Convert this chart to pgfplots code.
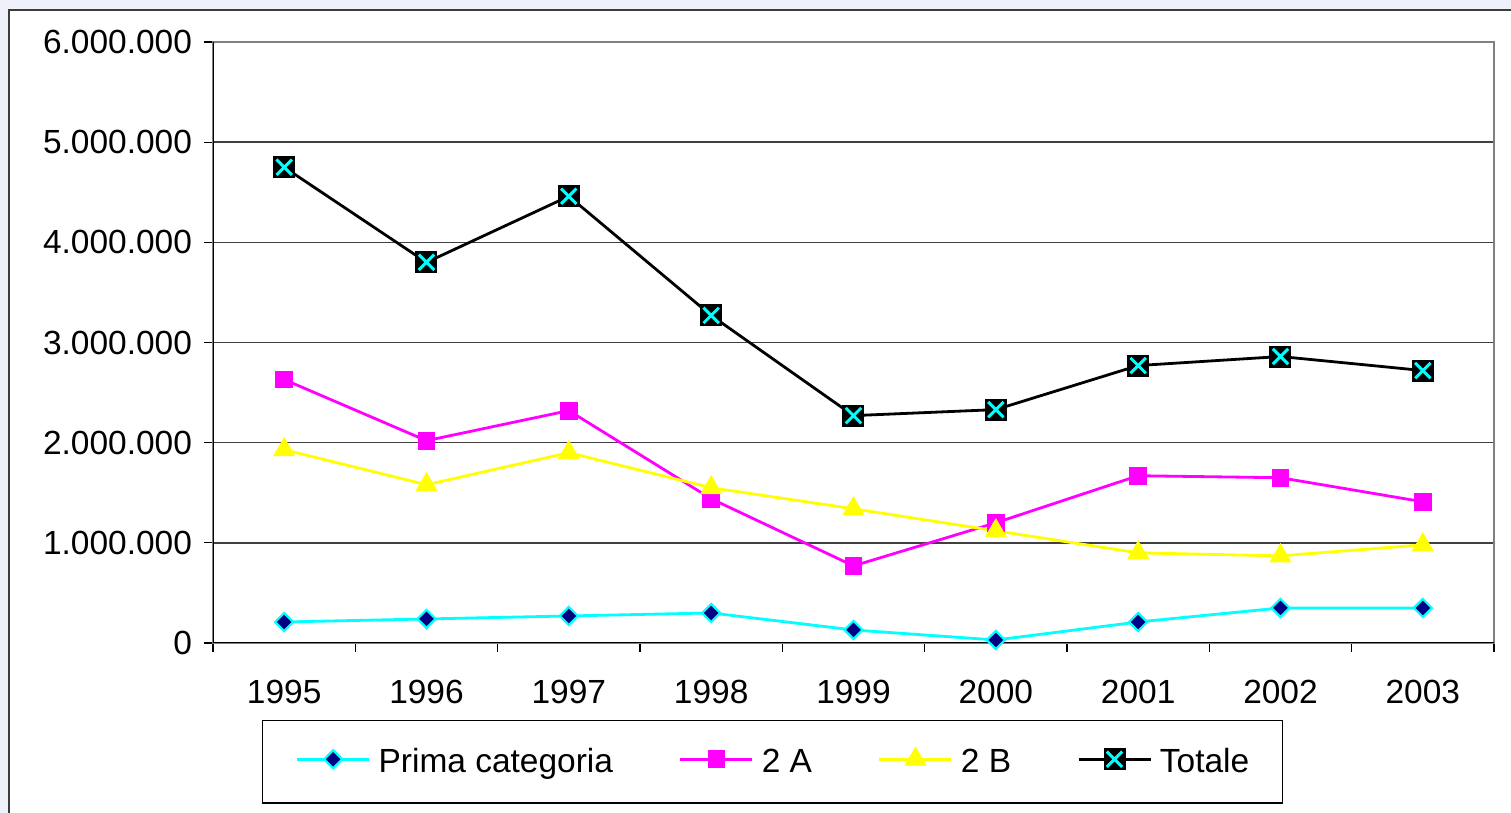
\documentclass[border=0pt]{standalone}
\usepackage{fontspec}
\setmainfont{Liberation Sans}
\usepackage{pgfplots}
\pgfplotsset{compat=1.18}

\definecolor{bgl}{HTML}{EEF0FA}
\definecolor{cy}{HTML}{00FFFF}
\definecolor{mg}{HTML}{FF00FF}
\definecolor{yl}{HTML}{FFFF00}
\definecolor{nv}{HTML}{000080}
\definecolor{frm}{HTML}{3C3C3C}
\definecolor{gr}{HTML}{808080}

% black square with a cyan cross (Totale)
\pgfdeclareplotmark{sqx}{%
  \pgfpathrectangle{\pgfqpoint{-\pgfplotmarksize}{-\pgfplotmarksize}}{\pgfqpoint{2\pgfplotmarksize}{2\pgfplotmarksize}}%
  \pgfsetfillcolor{black}\pgfusepath{fill}%
  \pgfsetstrokecolor{cy}\pgfsetlinewidth{1.5bp}%
  \pgfpathmoveto{\pgfqpoint{-0.7\pgfplotmarksize}{-0.7\pgfplotmarksize}}%
  \pgfpathlineto{\pgfqpoint{0.7\pgfplotmarksize}{0.7\pgfplotmarksize}}%
  \pgfpathmoveto{\pgfqpoint{-0.7\pgfplotmarksize}{0.7\pgfplotmarksize}}%
  \pgfpathlineto{\pgfqpoint{0.7\pgfplotmarksize}{-0.7\pgfplotmarksize}}%
  \pgfusepath{stroke}}

\newcommand\lbl{\fontsize{16.8}{19}\selectfont}

\begin{document}
\begin{tikzpicture}
  \path[use as bounding box, fill=bgl] (0,0) rectangle (755.5bp,406.5bp);
  \fill[white] (4.5bp,-2bp) rectangle (760bp,401.5bp);
  \draw[frm, line width=1.2bp] (4.5bp,-2bp) -- (4.5bp,401.5bp) -- (760bp,401.5bp);

  \begin{axis}[
    at={(106.5bp,85bp)}, anchor=south west,
    scale only axis,
    width=640.5bp, height=300.5bp,
    xmin=-0.5, xmax=8.5,
    ymin=0, ymax=6000000,
    xtick={0,...,8},
    xticklabels={1995,1996,1997,1998,1999,2000,2001,2002,2003},
    minor xtick={-0.5,0.5,...,8.5},
    ytick={0,1000000,...,6000000},
    yticklabels={0,1.000.000,2.000.000,3.000.000,4.000.000,5.000.000,6.000.000},
    minor ytick={0,1000000,...,6000000},
    scaled y ticks=false,
    xtick pos=bottom, ytick pos=left,
    tick align=outside,
    major tick length=0pt,
    minor tick length=4.5bp,
    every tick/.style={black, line width=0.6bp},
    ymajorgrids,
    major grid style={black!75, line width=0.7bp},
    axis line style={gr, line width=1.2bp},
    ticklabel style={font=\lbl},
    xticklabel style={yshift=-15bp},
    yticklabel style={xshift=-7bp},
    legend columns=4,
    legend style={
      at={(0.4368,0)}, anchor=north, yshift=-38.5bp,
      draw=black, line width=0.6bp,
      font=\lbl,
      inner xsep=16.5bp, inner ysep=13.8bp,
      nodes={inner sep=0pt},
      /tikz/every odd column/.append style={column sep=4bp},
      /tikz/every even column/.append style={column sep=33bp},
    },
    legend image code/.code={%
      \draw[mark repeat=2, mark phase=2, yshift=0.13em]
        plot coordinates {(0bp,0bp) (18bp,0bp) (36bp,0bp)};},
  ]
  \addplot[cy, line width=1.4bp, mark=square*, mark size=3.2bp,
    mark options={rotate=45, fill=nv, draw=cy, line width=1.1bp}]
    coordinates {(0,210000) (1,240000) (2,270000) (3,300000) (4,130000)
                 (5,30000) (6,210000) (7,350000) (8,350000)};
  \addlegendentry{Prima categoria}

  \addplot[mg, line width=1.4bp, mark=square*, mark size=3.75bp,
    mark options={fill=mg, draw=mg}]
    coordinates {(0,2630000) (1,2020000) (2,2320000) (3,1440000) (4,770000)
                 (5,1200000) (6,1670000) (7,1650000) (8,1410000)};
  \addlegendentry{2 A}

  \addplot[yl, line width=1.4bp, mark=triangle*, mark size=5bp,
    mark options={fill=yl, draw=yl}]
    coordinates {(0,1930000) (1,1580000) (2,1900000) (3,1550000) (4,1340000)
                 (5,1120000) (6,900000) (7,870000) (8,980000)};
  \addlegendentry{2 B}

  \addplot[black, line width=1.4bp, mark=sqx, mark size=5.5bp]
    coordinates {(0,4750000) (1,3800000) (2,4460000) (3,3270000) (4,2270000)
                 (5,2330000) (6,2770000) (7,2860000) (8,2720000)};
  \addlegendentry{Totale}

  \draw[black, line width=1bp] (rel axis cs:0,1) -- (rel axis cs:0,0) -- (rel axis cs:1,0);
  \end{axis}
\end{tikzpicture}
\end{document}
